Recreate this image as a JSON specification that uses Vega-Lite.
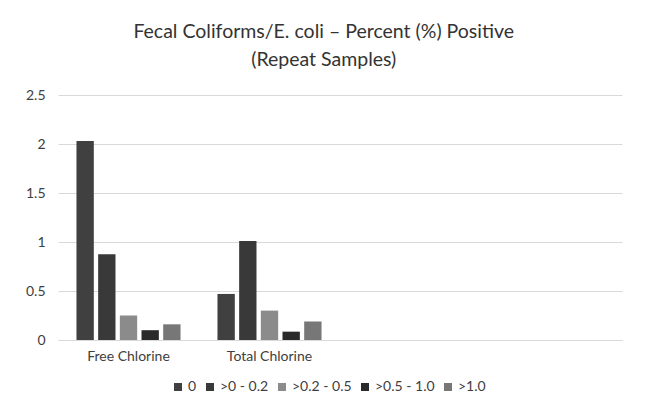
{
  "$schema": "https://vega.github.io/schema/vega-lite/v6.json",
  "width": 564,
  "height": 245,
  "autosize": "none",
  "padding": {"left": 58, "top": 95, "right": 24, "bottom": 70},
  "background": "white",
  "title": {
    "text": ["Fecal Coliforms/E. coli – Percent (%) Positive", "(Repeat Samples)"],
    "anchor": "middle",
    "frame": "bounds",
    "font": "Lato",
    "fontSize": 19.5,
    "fontWeight": "normal",
    "color": "#333333",
    "lineHeight": 28,
    "offset": 18
  },
  "data": {
    "values": [
      {"cat": "Free Chlorine", "series": "0", "value": 2.03},
      {"cat": "Free Chlorine", "series": ">0 - 0.2", "value": 0.875},
      {"cat": "Free Chlorine", "series": ">0.2 - 0.5", "value": 0.25},
      {"cat": "Free Chlorine", "series": ">0.5 - 1.0", "value": 0.10},
      {"cat": "Free Chlorine", "series": ">1.0", "value": 0.16},
      {"cat": "Total Chlorine", "series": "0", "value": 0.47},
      {"cat": "Total Chlorine", "series": ">0 - 0.2", "value": 1.01},
      {"cat": "Total Chlorine", "series": ">0.2 - 0.5", "value": 0.30},
      {"cat": "Total Chlorine", "series": ">0.5 - 1.0", "value": 0.085},
      {"cat": "Total Chlorine", "series": ">1.0", "value": 0.19}
    ]
  },
  "mark": {"type": "bar"},
  "encoding": {
    "x": {
      "field": "cat",
      "type": "nominal",
      "sort": null,
      "scale": {"domain": ["Free Chlorine", "Total Chlorine", "c3", "c4"], "paddingInner": 0.262, "paddingOuter": 0.131},
      "axis": {
        "title": null,
        "labelAngle": 0,
        "labelExpr": "datum.value == 'c3' || datum.value == 'c4' ? '' : datum.value",
        "ticks": false,
        "domainColor": "#d9d9d9",
        "labelFont": "Lato",
        "labelFontSize": 14,
        "labelColor": "#404040",
        "labelPadding": 9
      }
    },
    "xOffset": {
      "field": "series",
      "type": "nominal",
      "sort": ["0", ">0 - 0.2", ">0.2 - 0.5", ">0.5 - 1.0", ">1.0"],
      "scale": {"paddingInner": 0.2, "paddingOuter": 0}
    },
    "y": {
      "field": "value",
      "type": "quantitative",
      "scale": {"domain": [0, 2.5], "nice": false},
      "axis": {
        "title": null,
        "values": [0, 0.5, 1, 1.5, 2, 2.5],
        "format": "~g",
        "ticks": false,
        "domain": false,
        "gridColor": "#d9d9d9",
        "labelFont": "Lato",
        "labelFontSize": 14,
        "labelColor": "#404040",
        "labelPadding": 13
      }
    },
    "color": {
      "field": "series",
      "type": "nominal",
      "sort": ["0", ">0 - 0.2", ">0.2 - 0.5", ">0.5 - 1.0", ">1.0"],
      "scale": {
        "domain": ["0", ">0 - 0.2", ">0.2 - 0.5", ">0.5 - 1.0", ">1.0"],
        "range": ["#404040", "#393939", "#8b8b8b", "#2a2a2a", "#777777"]
      },
      "legend": {
        "title": null,
        "orient": "none",
        "direction": "horizontal",
        "legendX": 113,
        "legendY": 285,
        "symbolType": "square",
        "symbolSize": 64,
        "symbolStrokeWidth": 0,
        "labelFont": "Lato",
        "labelFontSize": 14,
        "labelColor": "#404040",
        "labelOffset": 3,
        "columnPadding": 6
      }
    }
  },
  "config": {
    "view": {"stroke": null}
  }
}
